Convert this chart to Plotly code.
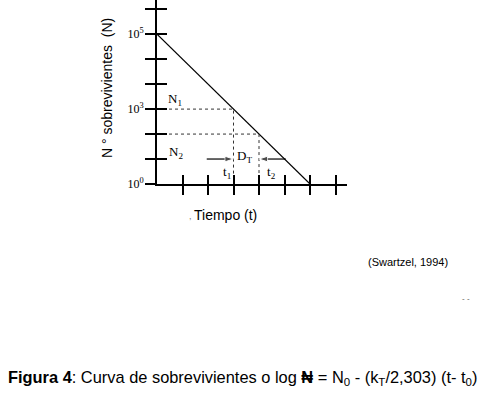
import plotly.graph_objects as go

# ---- data (axis units: one tick step per unit) ----
time_ticks = [1, 2, 3, 4, 5, 6, 7]
n_tickvals = [0, 1, 2, 3, 4, 5, 6, 7]
n_label_vals = [0, 3, 6]
n_label_text = ["10<sup>0</sup>", "10<sup>3</sup>", "10<sup>5</sup>"]
curve_t = [0, 6]
curve_logN = [6, 0]
t_marks = [3, 4]      # t1, t2
n_marks = [3, 2]      # N1, N2
arrow_level = 1
arrow_left = [1.95, 3]     # from, to
arrow_right = [5.05, 4]    # from, to

SERIF = "Liberation Serif"
SANS = "Liberation Sans"

W, H = 487, 393
L, R, T, B = 157, 140, 0, 209
XR = [0, 7.45]
YR = [0, 7.37]

fig = go.Figure()

fig.add_trace(go.Scatter(x=curve_t, y=curve_logN, mode="lines",
                         line=dict(color="black", width=1.2), hoverinfo="skip"))
for t, n in zip(t_marks, n_marks):
    fig.add_trace(go.Scatter(x=[0, t, t], y=[n, n, 0], mode="lines",
                             line=dict(color="#333", width=1, dash="dot"), hoverinfo="skip"))
for seg in (arrow_left, arrow_right):
    fig.add_trace(go.Scatter(x=seg, y=[arrow_level, arrow_level], mode="lines+markers",
                             line=dict(color="black", width=1.2),
                             marker=dict(symbol="arrow", size=[0, 9], angleref="previous",
                                         color="black"),
                             hoverinfo="skip"))
fig.add_trace(go.Scatter(x=[0], y=[0], xaxis="x2", yaxis="y2", mode="markers",
                         marker=dict(opacity=0), hoverinfo="skip"))
fig.add_trace(go.Scatter(x=[0], y=[0], xaxis="x", yaxis="y3", mode="markers",
                         marker=dict(opacity=0), hoverinfo="skip"))

axis_common = dict(showgrid=False, zeroline=False)
fig.update_layout(
    width=W, height=H, autosize=False,
    margin=dict(l=L, r=R, t=T, b=B, pad=0),
    paper_bgcolor="white", plot_bgcolor="white",
    showlegend=False,
    xaxis=dict(range=XR, showline=True, linecolor="black", linewidth=2,
               tickmode="array", tickvals=time_ticks, ticks="outside", ticklen=9,
               tickwidth=1.5, tickcolor="black", showticklabels=False, **axis_common),
    xaxis2=dict(range=XR, overlaying="x", anchor="y", side="bottom", showline=False,
                tickmode="array", tickvals=time_ticks, ticks="inside", ticklen=9,
                tickwidth=1.5, tickcolor="black", showticklabels=False, **axis_common),
    yaxis=dict(range=YR, showline=True, linecolor="black", linewidth=1.5,
               tickmode="array", tickvals=n_tickvals, ticks="outside", ticklen=10,
               tickwidth=1.5, tickcolor="black", showticklabels=False, **axis_common),
    yaxis2=dict(range=YR, overlaying="y", anchor="x", side="left", showline=False,
                tickmode="array", tickvals=n_tickvals[1:], ticks="inside", ticklen=10,
                tickwidth=1.5, tickcolor="black", showticklabels=False, **axis_common),
    yaxis3=dict(range=YR, overlaying="y", anchor="x", side="left", showline=False,
                tickmode="array", tickvals=n_label_vals, ticktext=n_label_text,
                ticks="outside", ticklen=10, tickwidth=1.5, tickcolor="black",
                tickfont=dict(family=SERIF, size=12, color="black"), **axis_common),
)

def px_x(px):
    return (px - L) / (W - L - R)

def px_y(py):
    return (H - B - py) / (H - B - T)

def note(px, py, text, font, **kw):
    d = dict(x=px_x(px), y=px_y(py), xref="paper", yref="paper", text=text,
             showarrow=False, font=font, xanchor="center", yanchor="middle")
    d.update(kw)
    return d

ann = []
lab_font = dict(family=SERIF, size=13, color="black")
ann += [
    dict(x=0.7, y=3.37, xref="x", yref="y", text="N<sub>1</sub>", showarrow=False, font=lab_font),
    dict(x=0.73, y=1.27, xref="x", yref="y", text="N<sub>2</sub>", showarrow=False, font=lab_font),
    dict(x=3.42, y=1.1, xref="x", yref="y", text="D<sub>T</sub>", showarrow=False, font=lab_font),
    dict(x=2.75, y=0.45, xref="x", yref="y", text="t<sub>1</sub>", showarrow=False, font=lab_font),
    dict(x=4.5, y=0.45, xref="x", yref="y", text="t<sub>2</sub>", showarrow=False, font=lab_font),
]
ann.append(note(107, 88, "N ° sobrevivientes  (N)", dict(family=SANS, size=14, color="black"),
                textangle=-90))
ann.append(note(225, 215, "Tiempo (t)", dict(family=SANS, size=14, color="black")))
ann.append(note(190, 216, ",", dict(family=SANS, size=9, color="#777")))
ann.append(note(408, 262, "(Swartzel, 1994)", dict(family=SANS, size=11, color="black")))
ann.append(note(466, 298, "- -", dict(family=SANS, size=8, color="#555")))
ann.append(note(479, 378,
                "<b>Figura 4</b>: Curva de sobrevivientes o log <b>₦</b> = N<sub>0</sub> - (k<sub>T</sub>/2,303) (t- t<sub>0</sub>)",
                dict(family=SANS, size=16.4, color="black"), xanchor="right"))

fig.update_layout(annotations=ann)
fig.write_html("out.html", config={"displayModeBar": False},
               post_script="document.body.style.margin='0';document.body.style.padding='0';document.body.style.overflow='hidden';")
